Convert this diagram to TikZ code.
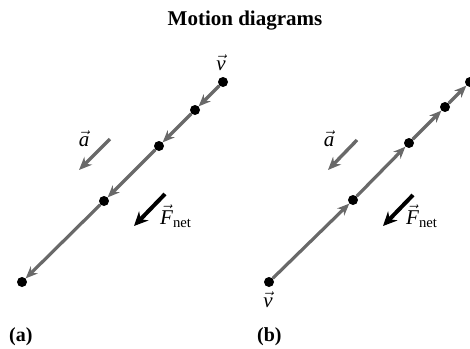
\documentclass[tikz,border=0pt]{standalone}
\usepackage{fontspec}
\setmainfont{Liberation Serif}
\usetikzlibrary{arrows.meta}
\definecolor{vgray}{RGB}{105,105,105}
\tikzset{
  dot/.style={circle,fill=black,inner sep=0pt,minimum size=10pt},
  seg/.style={vgray,line width=3.2pt,-{Stealth[length=12pt,width=10pt]}},
  accel/.style={vgray,line width=3.4pt,-{Stealth[length=13pt,width=11pt]}},
  force/.style={black,line width=4pt,-{Stealth[length=14pt,width=13pt]}},
  lab/.style={inner sep=0pt,font=\fontsize{21}{24}\selectfont},
  flab/.style={inner sep=0pt,font=\fontsize{21}{24}\selectfont,anchor=west},
  title/.style={inner sep=0pt,font=\fontsize{21}{24}\selectfont\bfseries},
  plabel/.style={inner sep=0pt,font=\fontsize{20}{22}\selectfont\bfseries,anchor=base west}
}
\begin{document}
\begin{tikzpicture}[x=1pt,y=-1pt]
\useasboundingbox (0,0) rectangle (470,348);
\node[title,anchor=base] (t) at (245,25) {Motion diagrams};
% panel (a)
\node[dot] (a1) at (223,82) {};
\node[dot] (a2) at (195,110) {};
\node[dot] (a3) at (159,146) {};
\node[dot] (a4) at (104,201) {};
\node[dot] (a5) at (22,282) {};
\draw[seg] (a1) -- (a2);
\draw[seg] (a2) -- (a3);
\draw[seg] (a3) -- (a4);
\draw[seg] (a4) -- (a5);
\node[lab] (va) at (221,63) {$\vec{\mathit{v}}$};
\coordinate (aas) at (110,139);
\coordinate (aae) at (79,170);
\draw[accel] (aas) -- (aae);
\node[lab] (alab) at (84,139) {$\vec{\mathit{a}}$};
\coordinate (fas) at (165,194);
\coordinate (fae) at (134,226);
\draw[force] (fas) -- (fae);
\node[flab] (flab) at (160,216) {$\vec{\mathit{F}}_{\scriptstyle\mathrm{net}}$};
\node[plabel] (pa) at (9,341) {(a)};
% panel (b)
\node[dot] (b1) at (269,282) {};
\node[dot] (b2) at (353,200) {};
\node[dot] (b3) at (409,143) {};
\node[dot] (b4) at (445,107) {};
\node[dot] (b5) at (470,82) {};
\draw[seg] (b1) -- (b2);
\draw[seg] (b2) -- (b3);
\draw[seg] (b3) -- (b4);
\draw[seg] (b4) -- (b5);
\node[lab] (vb) at (268,300) {$\vec{\mathit{v}}$};
\coordinate (bas) at (357,140);
\coordinate (bae) at (328,170);
\draw[accel] (bas) -- (bae);
\node[lab] (blab) at (329,139) {$\vec{\mathit{a}}$};
\coordinate (fbs) at (413,195);
\coordinate (fbe) at (383,226);
\draw[force] (fbs) -- (fbe);
\node[flab] (fblab) at (406,216) {$\vec{\mathit{F}}_{\scriptstyle\mathrm{net}}$};
\node[plabel] (pb) at (257,341) {(b)};
\end{tikzpicture}
\end{document}
